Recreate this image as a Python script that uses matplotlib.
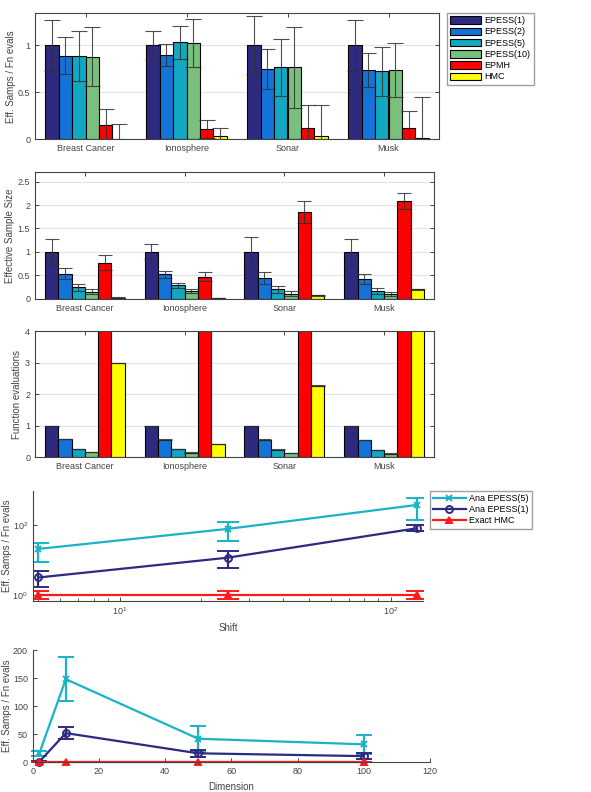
import numpy as np
import matplotlib
matplotlib.use("Agg")
import matplotlib.pyplot as plt
from matplotlib.lines import Line2D
from matplotlib.ticker import FuncFormatter, NullLocator, LogLocator

plt.rcParams["font.family"] = ["Liberation Sans", "DejaVu Sans"]
plt.rcParams["mathtext.fontset"] = "custom"
plt.rcParams["mathtext.rm"] = "Liberation Sans"

datasets = ["Breast Cancer", "Ionosphere", "Sonar", "Musk"]
methods = ["EPESS(1)", "EPESS(2)", "EPESS(5)", "EPESS(10)", "EPMH", "HMC"]
colors = ["#2e2a80", "#1473d8", "#12a8c2", "#79bf7d", "#ff0000", "#ffff00"]

# rows = datasets, cols = methods
eff_per_eval = [[1.0, 0.89, 0.885, 0.88, 0.152, 0.005],
                [1.0, 0.895, 1.03, 1.02, 0.11, 0.03],
                [1.0, 0.75, 0.765, 0.765, 0.117, 0.032],
                [1.0, 0.735, 0.723, 0.74, 0.115, 0.01]]
eff_per_eval_err = [[0.27, 0.2, 0.27, 0.31, 0.165, 0.16],
                    [0.15, 0.12, 0.18, 0.255, 0.1, 0.09],
                    [0.31, 0.215, 0.3, 0.43, 0.245, 0.335],
                    [0.27, 0.18, 0.26, 0.285, 0.185, 0.445]]
ess = [[1.0, 0.536, 0.243, 0.15, 0.764, 0.02],
       [1.0, 0.52, 0.286, 0.164, 0.47, 0.015],
       [1.0, 0.436, 0.2, 0.107, 1.85, 0.071],
       [1.0, 0.42, 0.17, 0.1, 2.086, 0.2]]
ess_err = [[0.265, 0.12, 0.08, 0.06, 0.16, 0.01],
           [0.16, 0.07, 0.05, 0.04, 0.1, 0.005],
           [0.31, 0.13, 0.075, 0.06, 0.23, 0.01],
           [0.27, 0.1, 0.06, 0.04, 0.18, 0.015]]
fn_evals = [[1.0, 0.59, 0.264, 0.158, 5.0, 2.976],
            [1.0, 0.56, 0.253, 0.148, 4.3, 0.42],
            [1.0, 0.56, 0.243, 0.127, 15.8, 2.27],
            [1.0, 0.55, 0.232, 0.116, 18.1, 20.0]]

# shift experiment (log-log)
shift = [5, 25, 125]
ana5 = [20.8, 77, 370]
ana5_lo = [8.9, 35, 139]
ana5_hi = [31, 122, 585]
ana1 = [3.2, 11.7, 80.5]
ana1_lo = [1.7, 6.0, 66]
ana1_hi = [4.9, 17.8, 100]
hmc_shift = [1.0, 1.0, 1.0]
hmc_shift_lo = [0.77, 0.77, 0.77]
hmc_shift_hi = [1.35, 1.35, 1.35]

# dimension experiment
dim = [2, 10, 50, 100]
d_ana5 = [16, 148, 42, 32]
d_ana5_err = [4.5, 39, 23, 17]
d_ana1 = [1, 52, 16, 11]
d_ana1_err = [1, 10, 6, 5]
d_hmc = [1, 1, 1, 1]
d_hmc_err = [0.3, 0.3, 0.3, 0.3]

CYAN, NAVY, RED = "#19b3c6", "#2e2a80", "#ff1a1a"
AXC = "#444444"
FS = 6.5
W, H = 591.0, 792.0

fig = plt.figure(figsize=(5.91, 7.92), dpi=100)


def px(l, t, r, b):
    return [l / W, 1 - b / H, (r - l) / W, (b - t) / H]


def style(ax, box=True):
    for s in ax.spines.values():
        s.set_color(AXC)
        s.set_linewidth(0.8)
    if not box:
        ax.spines["top"].set_visible(False)
        ax.spines["right"].set_visible(False)
    ax.tick_params(direction="in", colors=AXC, labelsize=FS, length=3,
                   top=box, right=box, width=0.7)


def ylab(ax, text, xpix):
    # xpix = pixel column of the label's centre; anchor sits on its right edge
    ax.set_ylabel(text, fontsize=7, color=AXC)
    l = ax.get_position().x0 * W
    w = ax.get_position().width * W
    ax.yaxis.set_label_coords((xpix + 4.5 - l) / w, 0.5)


def bar_panel(rect, vals, errs, ylim, yticks, ylabel, labx, caps=6):
    ax = fig.add_axes(rect)
    vals = np.array(vals)
    n = vals.shape[1]
    w = 0.8 / n
    x = np.arange(1, len(datasets) + 1)
    for j in range(n):
        xj = x + (j - (n - 1) / 2) * w
        ax.bar(xj, vals[:, j], w, color=colors[j], edgecolor="black",
               linewidth=0.8, label=methods[j], zorder=2)
        if errs is not None:
            ax.errorbar(xj, vals[:, j], yerr=np.array(errs)[:, j], fmt="none",
                        ecolor="#303030", elinewidth=0.8, capsize=caps,
                        capthick=0.8, zorder=3, alpha=0.85)
    ax.set_xlim(0.5, 4.5)
    ax.set_ylim(*ylim)
    ax.set_yticks(yticks)
    ax.yaxis.set_major_formatter(FuncFormatter(lambda v, p: "%g" % v))
    ax.set_xticks(x)
    ax.set_xticklabels(datasets)
    ax.yaxis.grid(True, color="#e4e4e4", linewidth=0.8, zorder=0)
    ax.set_axisbelow(True)
    ylab(ax, ylabel, labx)
    style(ax)
    return ax


ax1 = bar_panel(px(35, 13.3, 439, 139.3), eff_per_eval, eff_per_eval_err,
                (0, 1.34), [0, 0.5, 1], "Eff. Samps / Fn evals", 12)
ax1.legend(loc="upper left", bbox_to_anchor=(447 / W, 1 - 13 / H),
           bbox_transform=fig.transFigure, fontsize=FS, frameon=True,
           fancybox=False, edgecolor="#888888", handlelength=3.4,
           handleheight=0.9, labelspacing=0.25, handletextpad=0.4,
           borderpad=0.35, borderaxespad=0)

bar_panel(px(35, 172.3, 434, 298.7), ess, ess_err,
          (0, 2.7), [0, 0.5, 1, 1.5, 2, 2.5], "Effective Sample Size", 11,
          caps=5)

fn_err = [[0.005] * 6 for _ in datasets]
bar_panel(px(35, 331, 434, 457.3), fn_evals, fn_err,
          (0, 4), [0, 1, 2, 3, 4], "Function evaluations", 18, caps=5)

# shift panel
ax4 = fig.add_axes(px(32.7, 490.7, 423, 600.7))
ax4.set_xscale("log")
ax4.set_yscale("log")
handles = []
for y, lo, hi, c, m, lab in [
        (ana5, ana5_lo, ana5_hi, CYAN, "x", "Ana EPESS(5)"),
        (ana1, ana1_lo, ana1_hi, NAVY, "o", "Ana EPESS(1)"),
        (hmc_shift, hmc_shift_lo, hmc_shift_hi, RED, "^", "Exact HMC")]:
    y = np.array(y)
    mfc = "none" if m == "o" else c
    ax4.errorbar(shift, y, yerr=[y - np.array(lo), np.array(hi) - y],
                 color=c, marker=m, markersize=5, mfc=mfc,
                 mew=1.4, lw=1.6, capsize=8, capthick=1.6, elinewidth=1.6)
    handles.append(Line2D([], [], color=c, marker=m, markersize=5, mfc=mfc,
                          mew=1.4, lw=1.6, label=lab))
ax4.set_xlim(4.76, 131.6)
ax4.set_ylim(0.7, 940)
ax4.set_yticks([1, 100])
ax4.yaxis.set_minor_locator(NullLocator())
ax4.xaxis.set_minor_locator(LogLocator(base=10, subs=np.arange(2, 10)))
ax4.set_xticks([10, 100])
ax4.set_xlabel("Shift", fontsize=7, color=AXC)
ylab(ax4, "Eff. Samps / Fn evals", 8)
style(ax4, box=False)
ax4.tick_params(which="minor", direction="in", length=2, colors=AXC,
                top=False, right=False)
ax4.legend(handles=handles, loc="upper left",
           bbox_to_anchor=(430 / W, 1 - 490.7 / H),
           bbox_transform=fig.transFigure, fontsize=FS, frameon=True,
           fancybox=False, edgecolor="#888888", handlelength=3.6,
           labelspacing=0.25, handletextpad=0.4, borderpad=0.35,
           borderaxespad=0)

# dimension panel
ax5 = fig.add_axes(px(32.7, 650, 430, 762.3))
for y, e, c, m in [(d_ana5, d_ana5_err, CYAN, "x"),
                   (d_ana1, d_ana1_err, NAVY, "o"),
                   (d_hmc, d_hmc_err, RED, "^")]:
    ax5.errorbar(dim, y, yerr=e, color=c, marker=m, markersize=5,
                 mfc="none" if m == "o" else c, mew=1.4, lw=1.6, capsize=6,
                 capthick=1.6, elinewidth=1.6, clip_on=False)
ax5.set_xlim(0, 120)
ax5.set_ylim(0, 200)
ax5.set_xticks(range(0, 121, 20))
ax5.set_yticks(range(0, 201, 50))
ax5.set_xlabel("Dimension", fontsize=7, color=AXC)
ylab(ax5, "Eff. Samps / Fn evals", 8)
style(ax5, box=False)

fig.savefig("out.png", dpi=100)
